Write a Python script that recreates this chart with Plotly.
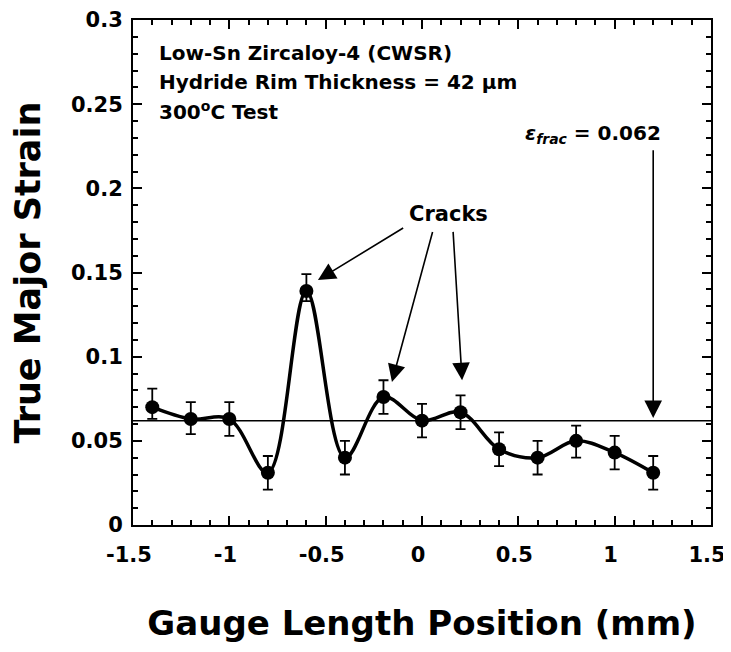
import plotly.graph_objects as go

# data
position = [-1.4, -1.2, -1.0, -0.8, -0.6, -0.4, -0.2, 0.0, 0.2, 0.4, 0.6, 0.8, 1.0, 1.2]
strain = [0.070, 0.063, 0.063, 0.031, 0.139, 0.040, 0.076, 0.062, 0.067, 0.045, 0.040, 0.050, 0.043, 0.031]
err_plus = [0.011, 0.010, 0.010, 0.010, 0.010, 0.010, 0.010, 0.010, 0.010, 0.010, 0.010, 0.009, 0.010, 0.010]
err_minus = [0.007, 0.009, 0.010, 0.010, 0.006, 0.010, 0.010, 0.010, 0.010, 0.010, 0.010, 0.010, 0.010, 0.010]
eps_frac = 0.062

x_tickvals = [-1.5, -1, -0.5, 0, 0.5, 1, 1.5]
x_ticktext = ["-1.5", "-1", "-0.5", "0", "0.5", "1", "1.5"]

notes = ["Low-Sn Zircaloy-4 (CWSR)",
         "Hydride Rim Thickness = 42 \u03bcm",
         "300<sup>o</sup>C Test"]

FONT = "DejaVu Sans, Verdana, sans-serif"

fig = go.Figure()

# fracture strain reference line
fig.add_trace(go.Scatter(
    x=[-1.5, 1.5], y=[eps_frac, eps_frac],
    mode='lines', line=dict(color='black', width=1.5),
    showlegend=False, hoverinfo='skip'
))

fig.add_trace(go.Scatter(
    x=position, y=strain,
    mode='lines+markers',
    line=dict(color='black', width=3.5, shape='spline', smoothing=1.0),
    marker=dict(color='black', size=14),
    error_y=dict(type='data', symmetric=False, array=err_plus, arrayminus=err_minus,
                 color='black', thickness=1.8, width=5),
    showlegend=False
))

# text block top-left
for i, txt in enumerate(notes):
    fig.add_annotation(
        x=-1.375, y=0.2805 - i * 0.0173, xref='x', yref='y',
        text=txt, showarrow=False, xanchor='left', yanchor='middle',
        font=dict(family=FONT, size=20, color='black', weight='bold')
    )

fig.add_annotation(
    x=1.25, y=0.232, xref='x', yref='y',
    text="<i>\u03b5<sub>frac</sub></i> = 0.062", showarrow=False,
    xanchor='right', yanchor='middle',
    font=dict(family=FONT, size=20, color='black', weight='bold')
)
fig.add_annotation(
    x=1.2, y=0.0635, ax=1.2, ay=0.2235, xref='x', yref='y', axref='x', ayref='y',
    text="", showarrow=True, arrowhead=2, arrowsize=2.2, arrowwidth=1.6, arrowcolor='black'
)

fig.add_annotation(
    x=0.14, y=0.185, xref='x', yref='y',
    text="Cracks", showarrow=False, xanchor='center', yanchor='middle',
    font=dict(family=FONT, size=21, color='black', weight='bold')
)
for (tx, ty, hx, hy) in [(-0.09, 0.177, -0.54, 0.1455),
                         (0.057, 0.175, -0.156, 0.085),
                         (0.161, 0.175, 0.208, 0.086)]:
    fig.add_annotation(
        x=hx, y=hy, ax=tx, ay=ty, xref='x', yref='y', axref='x', ayref='y',
        text="", showarrow=True, arrowhead=2, arrowsize=2.2, arrowwidth=1.6, arrowcolor='black'
    )

axis_common = dict(
    showline=True, linecolor='black', linewidth=2, mirror='ticks',
    ticks='inside', ticklen=9, tickwidth=2, tickcolor='black',
    showgrid=False, zeroline=False, automargin=False,
    tickfont=dict(family=FONT, size=21, color='black', weight='bold'),
)

fig.update_xaxes(
    range=[-1.5, 1.5], tickvals=x_tickvals, ticktext=x_ticktext,
    minor=dict(dtick=0.1, ticks='inside', ticklen=5, tickwidth=1.5, tickcolor='black'),
    ticklabelstandoff=10, ticklabelshift=-4,
    title=dict(text="Gauge Length Position (mm)", standoff=45,
               font=dict(family=FONT, size=34, color='black', weight='bold')),
    **axis_common
)
fig.update_yaxes(
    range=[0, 0.3], dtick=0.05, tick0=0,
    minor=dict(dtick=0.01, ticks='inside', ticklen=5, tickwidth=1.5, tickcolor='black'),
    ticklabelstandoff=4,
    title=dict(text="True Major Strain", standoff=21,
               font=dict(family=FONT, size=35, color='black', weight='bold')),
    **axis_common
)

# page body has an 8px margin, so the figure is sized to fit inside it
fig.update_layout(
    width=723, height=644,
    margin=dict(l=125, r=20, t=12, b=127),
    plot_bgcolor='white', paper_bgcolor='white',
    showlegend=False
)

fig.write_html("out.html")
